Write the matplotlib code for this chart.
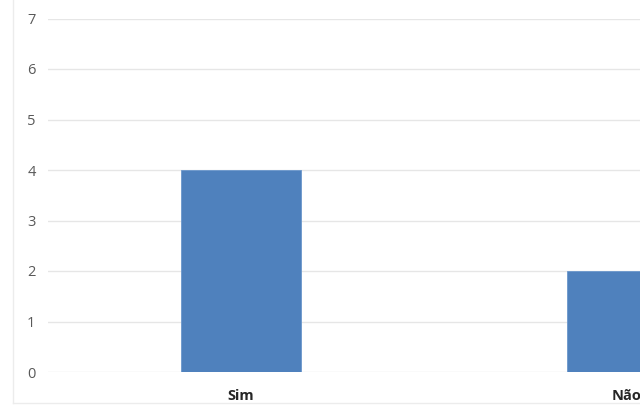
import matplotlib
matplotlib.use("Agg")
import matplotlib.pyplot as plt
from matplotlib.lines import Line2D

categories = ["Sim", "Não"]
values = [4, 2]
yticks = [0, 1, 2, 3, 4, 5, 6, 7]

plt.rcParams['font.family'] = ['Open Sans', 'DejaVu Sans']

fig = plt.figure(figsize=(6.4, 4.05), dpi=100)
fig.lines.append(Line2D([13/640, 13/640], [2/405, 1.0], transform=fig.transFigure,
                        color='#ececec', linewidth=1.0))
fig.lines.append(Line2D([13/640, 1.0], [2/405, 2/405], transform=fig.transFigure,
                        color='#ececec', linewidth=1.0))
ax = fig.add_axes([48/640, 1 - 372/405, 772/640, (372 - 18.5)/405])

x = list(range(len(categories)))
ax.bar(x, values, width=0.313, color='#4F81BD', edgecolor='#6b97cc', linewidth=0.6, zorder=3)

ax.set_xlim(-0.5, 1.5)
ax.set_ylim(0, 7)
ax.set_yticks(yticks)
ax.set_yticklabels([str(t) for t in yticks])
ax.set_xticks(x)
ax.set_xticklabels(categories, fontweight='bold', fontsize=10.5, color='#262626')
ax.tick_params(axis='y', length=0, pad=9, labelsize=10.5, labelcolor='#595959')
ax.tick_params(axis='x', length=0, pad=12)
ax.grid(axis='y', color='#e6e6e6', linewidth=1.0, zorder=0)
for s in ax.spines.values():
    s.set_visible(False)

fig.savefig("out.png", dpi=100)
